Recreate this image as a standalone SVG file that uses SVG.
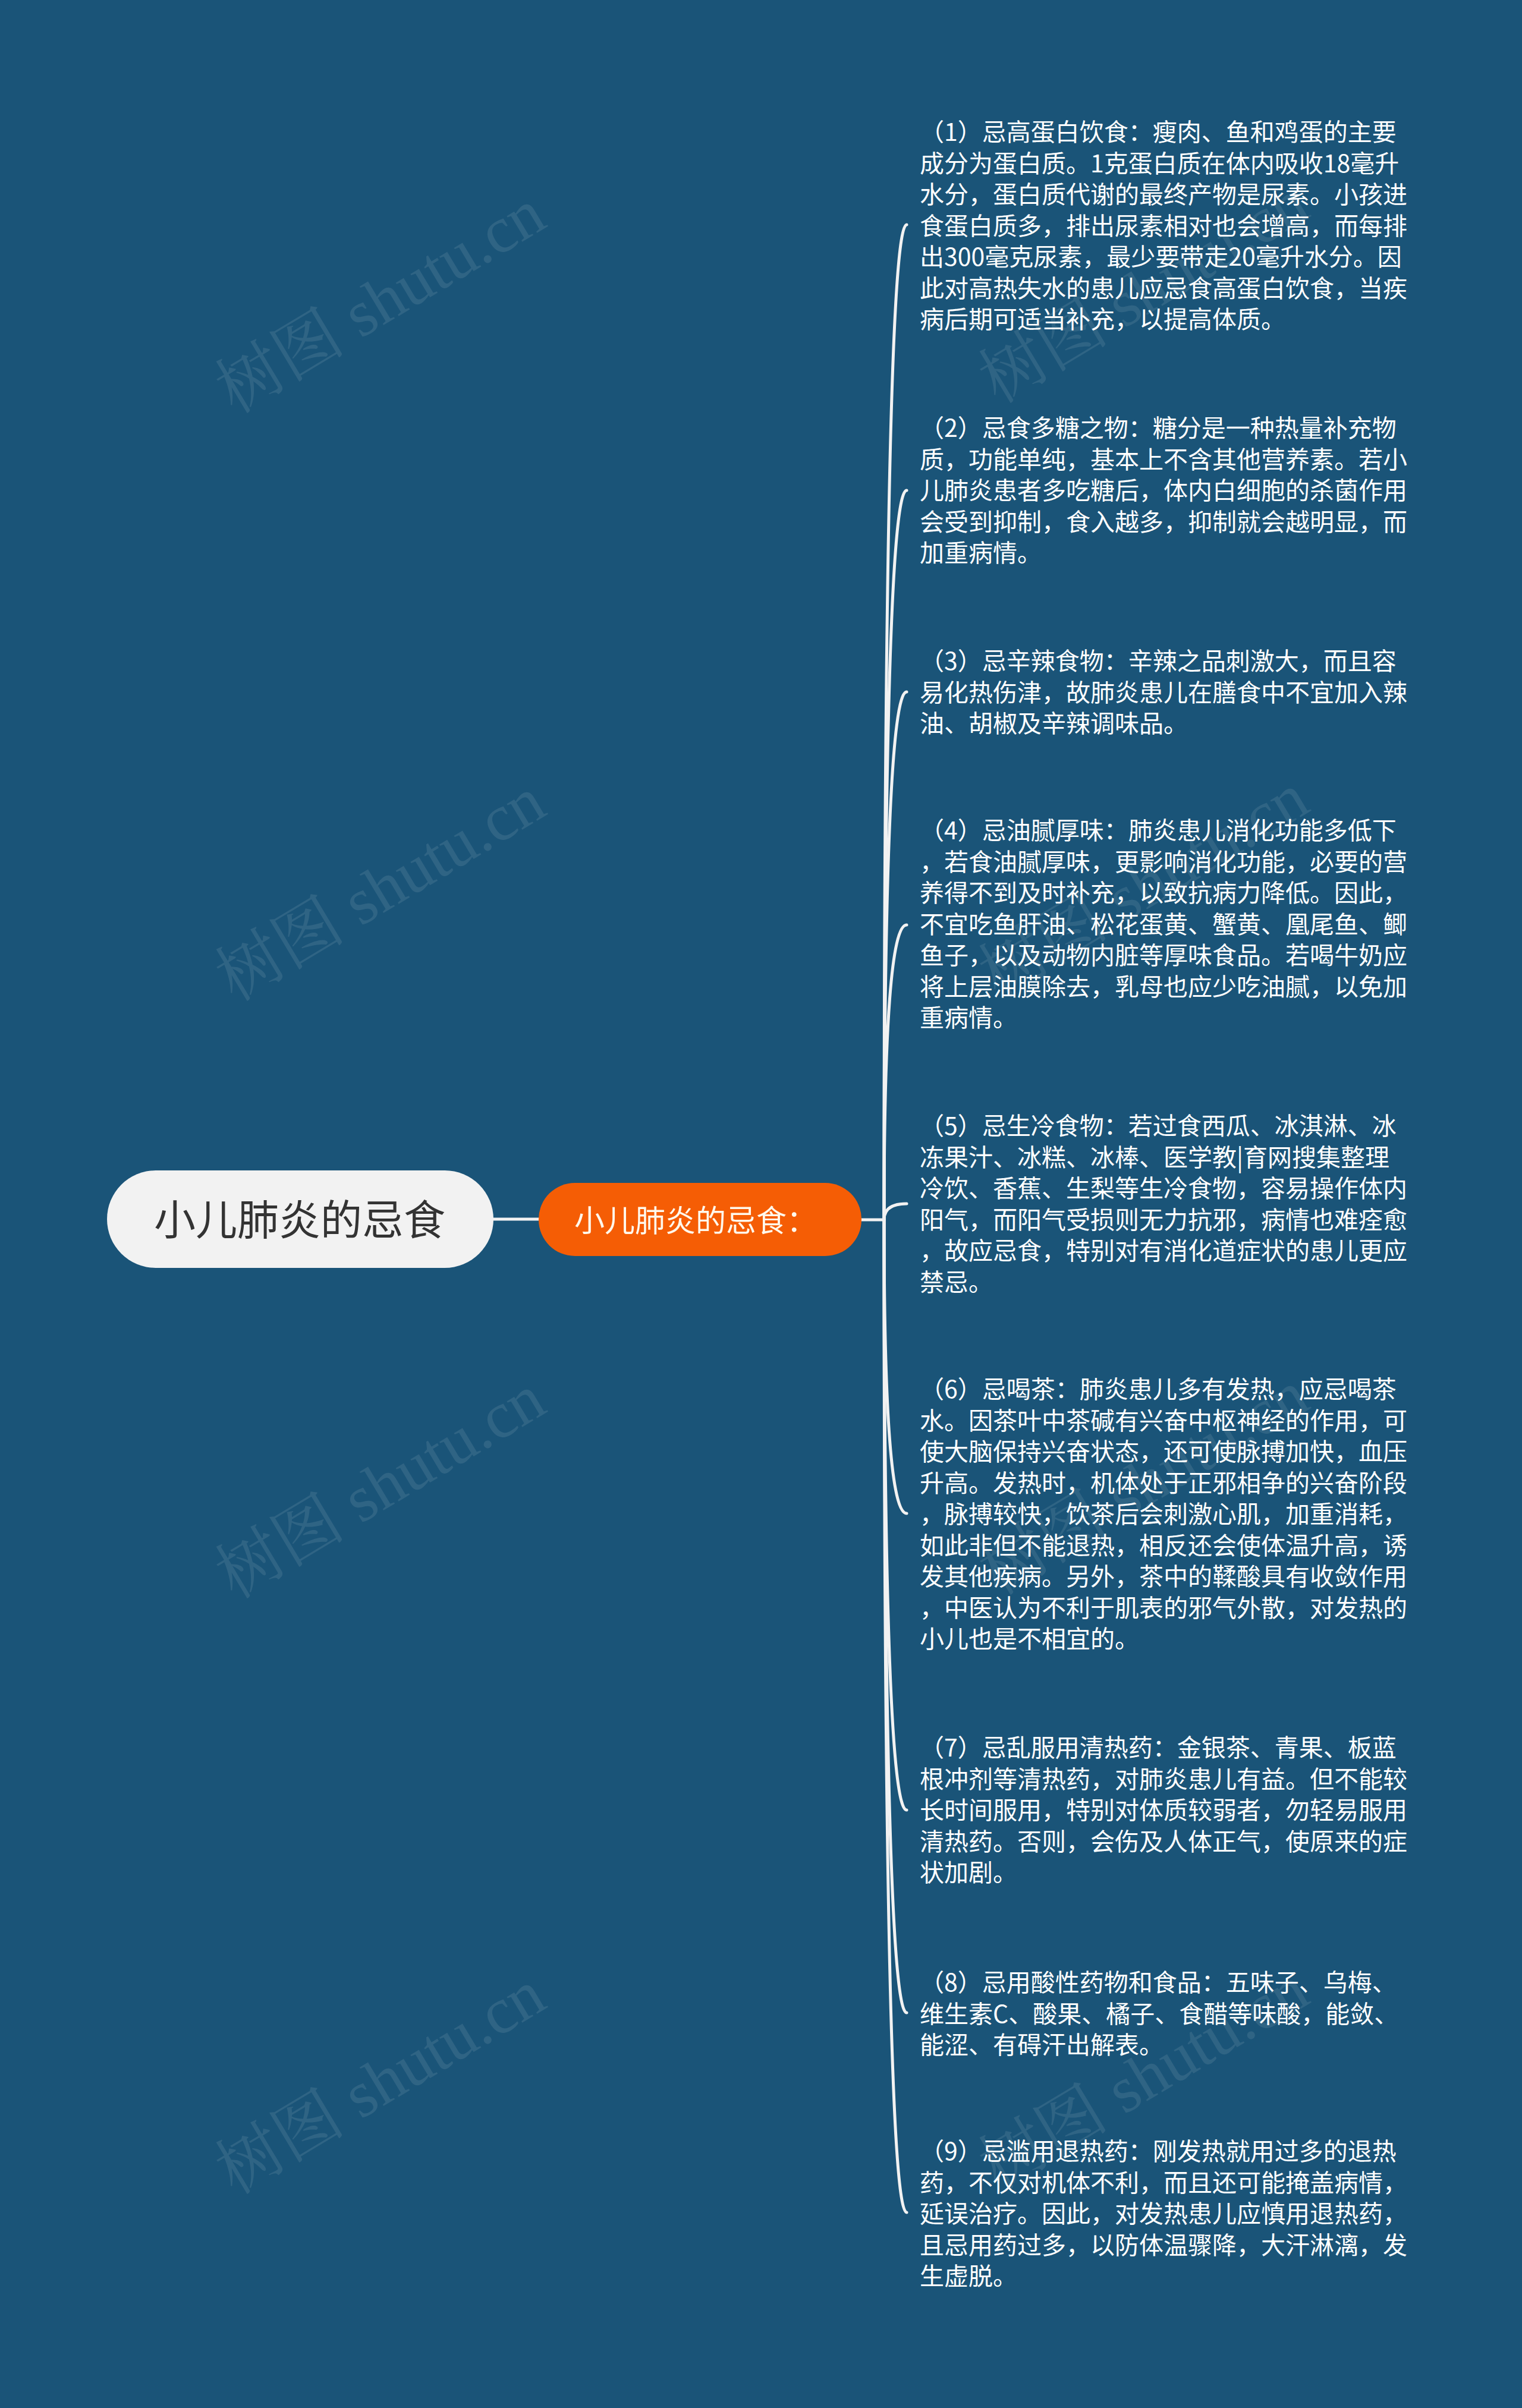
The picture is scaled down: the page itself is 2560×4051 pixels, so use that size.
<svg xmlns="http://www.w3.org/2000/svg" width="2560" height="4051" viewBox="0 0 2560 4051">
<style>
.bg{fill:#1a5478}
.wm{font-family:"Liberation Serif","Noto Serif CJK SC","Noto Sans CJK SC",serif;font-size:110px;fill:#ffffff;opacity:0.09}
.item{font-family:"Noto Sans CJK SC","Noto Sans",sans-serif;font-size:41px;fill:#ffffff}
.conn{fill:none;stroke:#f2f2f2;stroke-width:5;stroke-linecap:round}
.root-shape{fill:#f2f2f2}
.root-text{font-family:"Noto Sans CJK SC","Noto Sans",sans-serif;font-size:70px;fill:#333333}
.sub-shape{fill:#f55d05}
.sub-text{font-family:"Noto Sans CJK SC","Noto Sans",sans-serif;font-size:51px;fill:#fff8ec}
</style>
<rect class="bg" x="0" y="0" width="2560" height="4051"/>

<g id="watermarks">
<text class="wm" x="646" y="517" text-anchor="middle" dominant-baseline="middle" transform="rotate(-31 646 517)">树图 shutu.cn</text>
<text class="wm" x="646" y="1506" text-anchor="middle" dominant-baseline="middle" transform="rotate(-31 646 1506)">树图 shutu.cn</text>
<text class="wm" x="646" y="2511" text-anchor="middle" dominant-baseline="middle" transform="rotate(-31 646 2511)">树图 shutu.cn</text>
<text class="wm" x="646" y="3513" text-anchor="middle" dominant-baseline="middle" transform="rotate(-31 646 3513)">树图 shutu.cn</text>
<text class="wm" x="1930" y="500" text-anchor="middle" dominant-baseline="middle" transform="rotate(-31 1930 500)">树图 shutu.cn</text>
<text class="wm" x="1930" y="1500" text-anchor="middle" dominant-baseline="middle" transform="rotate(-31 1930 1500)">树图 shutu.cn</text>
<text class="wm" x="1930" y="2505" text-anchor="middle" dominant-baseline="middle" transform="rotate(-31 1930 2505)">树图 shutu.cn</text>
<text class="wm" x="1930" y="3505" text-anchor="middle" dominant-baseline="middle" transform="rotate(-31 1930 3505)">树图 shutu.cn</text>
</g>

<g id="connectors">
<path class="conn" d="M830 2051 H906"/>
<path class="conn" d="M1449 2052 H1487"/>
<path class="conn" d="M1487 2052 Q1487 378 1525 378"/>
<path class="conn" d="M1487 2052 Q1487 825 1525 825"/>
<path class="conn" d="M1487 2052 Q1487 1164 1525 1164"/>
<path class="conn" d="M1487 2052 Q1487 1556 1525 1556"/>
<path class="conn" d="M1487 2052 Q1487 2025 1525 2025"/>
<path class="conn" d="M1487 2052 Q1487 2546 1525 2546"/>
<path class="conn" d="M1487 2052 Q1487 3045 1525 3045"/>
<path class="conn" d="M1487 2052 Q1487 3386 1525 3386"/>
<path class="conn" d="M1487 2052 Q1487 3722 1525 3722"/>
</g>

<g id="root">
<rect class="root-shape" x="180" y="1969" width="650" height="164" rx="82" ry="82"/>
<text class="root-text" x="504" y="2078" text-anchor="middle">小儿肺炎的忌食</text>
</g>

<g id="sub">
<rect class="sub-shape" x="906" y="1990" width="543" height="123" rx="61" ry="61"/>
<text class="sub-text" x="966" y="2072">小儿肺炎的忌食：</text>
</g>

<g id="item1">
<text class="item" x="1547" y="237">
<tspan x="1547" dy="0">（1）忌高蛋白饮食：瘦肉、鱼和鸡蛋的主要</tspan>
<tspan x="1547" dy="52.5">成分为蛋白质。1克蛋白质在体内吸收18毫升</tspan>
<tspan x="1547" dy="52.5">水分，蛋白质代谢的最终产物是尿素。小孩进</tspan>
<tspan x="1547" dy="52.5">食蛋白质多，排出尿素相对也会增高，而每排</tspan>
<tspan x="1547" dy="52.5">出300毫克尿素，最少要带走20毫升水分。因</tspan>
<tspan x="1547" dy="52.5">此对高热失水的患儿应忌食高蛋白饮食，当疾</tspan>
<tspan x="1547" dy="52.5">病后期可适当补充，以提高体质。</tspan>
</text>
</g>

<g id="item2">
<text class="item" x="1547" y="735">
<tspan x="1547" dy="0">（2）忌食多糖之物：糖分是一种热量补充物</tspan>
<tspan x="1547" dy="52.5">质，功能单纯，基本上不含其他营养素。若小</tspan>
<tspan x="1547" dy="52.5">儿肺炎患者多吃糖后，体内白细胞的杀菌作用</tspan>
<tspan x="1547" dy="52.5">会受到抑制，食入越多，抑制就会越明显，而</tspan>
<tspan x="1547" dy="52.5">加重病情。</tspan>
</text>
</g>

<g id="item3">
<text class="item" x="1547" y="1127">
<tspan x="1547" dy="0">（3）忌辛辣食物：辛辣之品刺激大，而且容</tspan>
<tspan x="1547" dy="52.5">易化热伤津，故肺炎患儿在膳食中不宜加入辣</tspan>
<tspan x="1547" dy="52.5">油、胡椒及辛辣调味品。</tspan>
</text>
</g>

<g id="item4">
<text class="item" x="1547" y="1412">
<tspan x="1547" dy="0">（4）忌油腻厚味：肺炎患儿消化功能多低下</tspan>
<tspan x="1547" dy="52.5">，若食油腻厚味，更影响消化功能，必要的营</tspan>
<tspan x="1547" dy="52.5">养得不到及时补充，以致抗病力降低。因此，</tspan>
<tspan x="1547" dy="52.5">不宜吃鱼肝油、松花蛋黄、蟹黄、凰尾鱼、鲫</tspan>
<tspan x="1547" dy="52.5">鱼子，以及动物内脏等厚味食品。若喝牛奶应</tspan>
<tspan x="1547" dy="52.5">将上层油膜除去，乳母也应少吃油腻，以免加</tspan>
<tspan x="1547" dy="52.5">重病情。</tspan>
</text>
</g>

<g id="item5">
<text class="item" x="1547" y="1909">
<tspan x="1547" dy="0">（5）忌生冷食物：若过食西瓜、冰淇淋、冰</tspan>
<tspan x="1547" dy="52.5">冻果汁、冰糕、冰棒、医学教|育网搜集整理</tspan>
<tspan x="1547" dy="52.5">冷饮、香蕉、生梨等生冷食物，容易操作体内</tspan>
<tspan x="1547" dy="52.5">阳气，而阳气受损则无力抗邪，病情也难痊愈</tspan>
<tspan x="1547" dy="52.5">，故应忌食，特别对有消化道症状的患儿更应</tspan>
<tspan x="1547" dy="52.5">禁忌。</tspan>
</text>
</g>

<g id="item6">
<text class="item" x="1547" y="2352">
<tspan x="1547" dy="0">（6）忌喝茶：肺炎患儿多有发热，应忌喝茶</tspan>
<tspan x="1547" dy="52.5">水。因茶叶中茶碱有兴奋中枢神经的作用，可</tspan>
<tspan x="1547" dy="52.5">使大脑保持兴奋状态，还可使脉搏加快，血压</tspan>
<tspan x="1547" dy="52.5">升高。发热时，机体处于正邪相争的兴奋阶段</tspan>
<tspan x="1547" dy="52.5">，脉搏较快，饮茶后会刺激心肌，加重消耗，</tspan>
<tspan x="1547" dy="52.5">如此非但不能退热，相反还会使体温升高，诱</tspan>
<tspan x="1547" dy="52.5">发其他疾病。另外，茶中的鞣酸具有收敛作用</tspan>
<tspan x="1547" dy="52.5">，中医认为不利于肌表的邪气外散，对发热的</tspan>
<tspan x="1547" dy="52.5">小儿也是不相宜的。</tspan>
</text>
</g>

<g id="item7">
<text class="item" x="1547" y="2955">
<tspan x="1547" dy="0">（7）忌乱服用清热药：金银茶、青果、板蓝</tspan>
<tspan x="1547" dy="52.5">根冲剂等清热药，对肺炎患儿有益。但不能较</tspan>
<tspan x="1547" dy="52.5">长时间服用，特别对体质较弱者，勿轻易服用</tspan>
<tspan x="1547" dy="52.5">清热药。否则，会伤及人体正气，使原来的症</tspan>
<tspan x="1547" dy="52.5">状加剧。</tspan>
</text>
</g>

<g id="item8">
<text class="item" x="1547" y="3350">
<tspan x="1547" dy="0">（8）忌用酸性药物和食品：五味子、乌梅、</tspan>
<tspan x="1547" dy="52.5">维生素C、酸果、橘子、食醋等味酸，能敛、</tspan>
<tspan x="1547" dy="52.5">能涩、有碍汗出解表。</tspan>
</text>
</g>

<g id="item9">
<text class="item" x="1547" y="3634">
<tspan x="1547" dy="0">（9）忌滥用退热药：刚发热就用过多的退热</tspan>
<tspan x="1547" dy="52.5">药，不仅对机体不利，而且还可能掩盖病情，</tspan>
<tspan x="1547" dy="52.5">延误治疗。因此，对发热患儿应慎用退热药，</tspan>
<tspan x="1547" dy="52.5">且忌用药过多，以防体温骤降，大汗淋漓，发</tspan>
<tspan x="1547" dy="52.5">生虚脱。</tspan>
</text>
</g>
</svg>
